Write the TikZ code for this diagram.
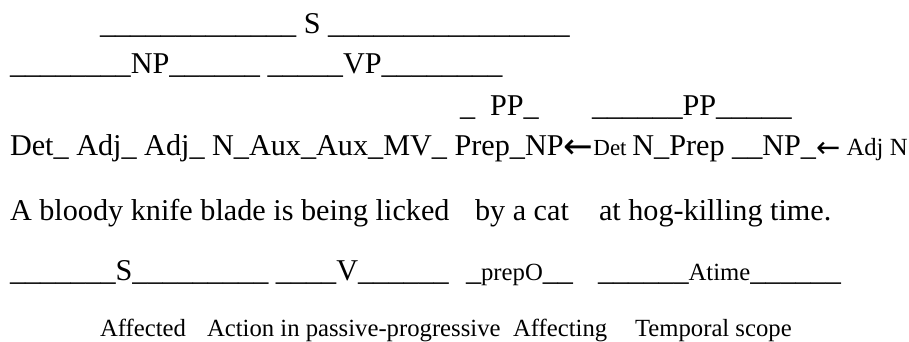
\documentclass[tikz,border=0pt]{standalone}
\usepackage{fontspec}
\setmainfont{Liberation Serif}
\newfontfamily\rsarrowfont{DejaVu Sans}
\newcommand\rsbig{\fontsize{30.2}{36}\selectfont}
\newcommand\rssmall{\fontsize{24.7}{30}\selectfont}
\newcommand\rsdet{\fontsize{23}{28}\selectfont}
\newcommand\rsarrA{\raisebox{-3pt}{\rsarrowfont\fontsize{35.5}{40}\selectfont ←}}
\newcommand\rsarrB{\raisebox{-2pt}{\rsarrowfont\fontsize{29}{34}\selectfont ←}}
\begin{document}
\begin{tikzpicture}[x=1pt,y=-1pt,
  txt/.style={anchor=base west,inner sep=0pt,outer sep=0pt,font=\rsbig},
  sm/.style={txt,font=\rssmall}]
\useasboundingbox (0,0) rectangle (909,341);
\fill[white] (0,0) rectangle (909,341);
% row 1
\node[txt] (r1) at (100,33) {\_\_\_\_\_\_\_\_\_\_\_\_\_ S \_\_\_\_\_\_\_\_\_\_\_\_\_\_\_\_};
% row 2
\node[txt] (r2) at (10,73) {\_\_\_\_\_\_\_\_NP\_\_\_\_\_\_ \_\_\_\_\_VP\_\_\_\_\_\_\_\_};
% row 3
\node[txt] (r3a) at (460,115) {\_};
\node[txt] (r3b) at (490,115) {PP\_};
\node[txt] (r3c) at (592,115) {\_\_\_\_\_\_PP\_\_\_\_\_};
% row 4
\node[txt] (r4) at (10,155) {Det\_ Adj\_ Adj\_ N\_Aux\_Aux\_MV\_ Prep\_NP\rsarrA{\rsdet Det }N\_Prep \_\_NP\_\rsarrB{\rssmall{} Adj N}};
% row 5
\node[txt] (r5a) at (10,220) {A bloody knife blade is being licked};
\node[txt] (r5b) at (475,220) {by a cat};
\node[txt] (r5c) at (599,220) {at hog-killing time.};
% row 6
\node[txt] (r6a) at (10,280) {\_\_\_\_\_\_\_S\_\_\_\_\_\_\_\_\_ \_\_\_\_V\_\_\_\_\_\_};
\node[txt] (r6b) at (466,280) {\_{\rssmall prepO}\_\_};
\node[txt] (r6c) at (598,280) {\_\_\_\_\_\_{\rssmall Atime}\_\_\_\_\_\_};
% row 7
\node[sm] (r7a) at (100,336) {Affected};
\node[sm] (r7b) at (207,336) {Action in passive-progressive};
\node[sm] (r7c) at (513,336) {Affecting};
\node[sm] (r7d) at (635,336) {Temporal scope};
\end{tikzpicture}
\end{document}
